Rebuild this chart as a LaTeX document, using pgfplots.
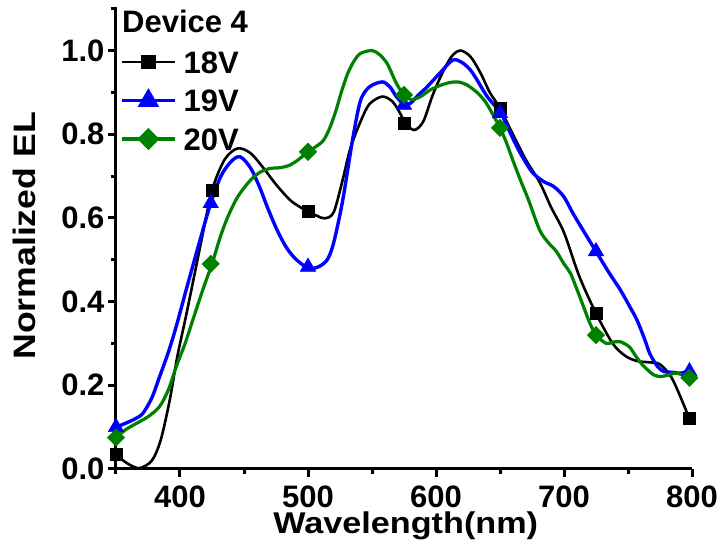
\documentclass[border=0pt]{standalone}
\usepackage{fontspec}
\setmainfont{Liberation Sans}
\usepackage{graphicx}
\usepackage{pgfplots}
\pgfplotsset{compat=1.18}
\definecolor{cgreen}{RGB}{0,128,0}
\definecolor{cblue}{RGB}{0,0,255}
\begin{document}
\begin{tikzpicture}
\begin{axis}[name=ax,
  width=576pt, height=462pt, scale only axis,
  xmin=350, xmax=800, ymin=0, ymax=1.104,
  axis x line*=bottom, axis y line*=left,
  axis line style={line width=3pt},
  every tick/.style={black, line width=3pt},
  tick align=outside,
  major tick length=8pt, minor tick length=5pt,
  xtick={400,500,600,700,800}, minor xtick={350,450,550,650,750},
  ytick={0,0.2,0.4,0.6,0.8,1.0}, minor ytick={0.1,0.3,0.5,0.7,0.9,1.1},
  yticklabel style={/pgf/number format/.cd, fixed, fixed zerofill, precision=1},
  /pgf/number format/assume math mode=true,
  tick label style={font=\fontsize{31}{31}\selectfont\bfseries},
  xticklabel style={inner sep=0pt, text depth=0pt, yshift=-8.6pt},
  xlabel={\scalebox{1.14}[1]{Wavelength(nm)}}, ylabel={\scalebox{1.15}[1]{Normalized EL}},
  xlabel style={font=\fontsize{30}{30}\selectfont\bfseries, inner sep=0pt, text height=21pt, at={(axis description cs:0.503,-0.14)}, anchor=base},
  ylabel style={font=\fontsize{31}{31}\selectfont\bfseries, at={(axis description cs:-0.1406,0.5045)}, anchor=base, rotate=0},
  clip=true,
  legend style={at={(0.007,0.905)}, anchor=north west, draw=none, fill=none, inner sep=0pt,
    font=\fontsize{31}{31}\selectfont\bfseries, row sep=16.5pt,
    nodes={inner sep=0pt, text height=22pt, text depth=0pt},
    /tikz/every odd column/.append style={column sep=7pt}},
  legend cell align=left,
  legend image code/.code={\draw[mark repeat=2,mark phase=2,#1] plot coordinates {(0pt,0pt) (26.5pt,0pt) (53pt,0pt)};},
]
% 18V curve
\addplot[black, line width=2.6pt, smooth, tension=0.5, forget plot] coordinates {
(350,0.035)(358,0.015)(368,0.002)(378,0.02)(385,0.07)(392,0.165)(398,0.27)(405,0.37)(415,0.52)(425,0.665)
(435,0.74)(445,0.766)(455,0.755)(465,0.72)(475,0.68)(487,0.64)(500,0.615)(507,0.605)(513,0.599)(520,0.613)
(527,0.69)(533,0.765)(541,0.83)(548,0.872)(558,0.89)(566,0.878)(572,0.85)(576,0.826)(583,0.81)(590,0.83)
(597,0.89)(604,0.94)(612,0.985)(619,1.0)(627,0.985)(635,0.945)(642,0.9)(650,0.862)(660,0.8)(670,0.74)
(681,0.685)(690,0.625)(700,0.565)(712,0.46)(725,0.372)(738,0.30)(748,0.27)(757,0.258)(766,0.255)(775,0.25)
(785,0.213)(798,0.12)};
\addplot[black, only marks, mark=square*, mark size=6pt, forget plot] coordinates {
(350,0.035)(425,0.667)(500,0.615)(575,0.827)(650,0.862)(725,0.372)(798,0.121)};
% 19V curve
\addplot[cblue, line width=3.4pt, smooth, tension=0.5, forget plot] coordinates {
(350,0.10)(358,0.11)(365,0.12)(371,0.133)(378,0.17)(384,0.22)(391,0.28)(397,0.34)(405,0.43)(415,0.54)
(424,0.635)(432,0.70)(440,0.735)(447,0.746)(455,0.72)(462,0.675)(469,0.62)(476,0.57)(483,0.53)(490,0.503)
(500,0.48)(508,0.483)(515,0.50)(520,0.54)(527,0.64)(535,0.79)(541,0.88)(548,0.913)(558,0.925)(564,0.913)
(569,0.89)(575,0.872)(580,0.874)(586,0.893)(593,0.913)(603,0.946)(613,0.977)(620,0.972)(627,0.953)(633,0.925)
(640,0.89)(651,0.848)(660,0.79)(666,0.754)(675,0.71)(684,0.687)(692,0.675)(700,0.65)(707,0.611)(716,0.565)
(725,0.52)(735,0.47)(744,0.428)(751,0.39)(757,0.356)(763,0.31)(767,0.276)(773,0.245)(778,0.233)(785,0.231)
(791,0.229)(798,0.235)};
\addplot[cblue, only marks, mark=triangle*, mark size=9pt, forget plot] coordinates {
(350,0.10)(424,0.635)(500,0.483)(575,0.87)(650,0.85)(725,0.52)(798,0.233)};
% 20V curve
\addplot[cgreen, line width=3.2pt, smooth, tension=0.5, forget plot] coordinates {
(350,0.075)(358,0.095)(366,0.109)(375,0.125)(384,0.149)(391,0.19)(397,0.244)(404,0.30)(410,0.356)(418,0.43)
(425,0.49)(431,0.55)(437,0.60)(445,0.65)(455,0.69)(463,0.71)(470,0.718)(478,0.72)(485,0.725)(492,0.738)
(500,0.758)(506,0.77)(512,0.785)(517,0.815)(522,0.858)(526,0.90)(531,0.945)(536,0.975)(541,0.993)(550,1.0)
(556,0.99)(562,0.968)(569,0.922)(575,0.894)(581,0.883)(588,0.89)(595,0.905)(602,0.915)(610,0.923)(617,0.925)
(624,0.918)(632,0.9)(638,0.88)(643,0.855)(650,0.815)(655,0.78)(660,0.738)(666,0.69)(672,0.645)(681,0.571)
(688,0.54)(694,0.52)(700,0.49)(705,0.468)(710,0.43)(715,0.39)(720,0.35)(725,0.32)(733,0.30)(738,0.303)
(744,0.304)(751,0.292)(756,0.27)(761,0.25)(766,0.235)(770,0.225)(775,0.221)(781,0.224)(788,0.229)(798,0.218)};
\addplot[cgreen, only marks, mark=square*, mark size=6.2pt, mark options={rotate=45}, forget plot] coordinates {
(350,0.075)(424,0.49)(500,0.758)(575,0.894)(650,0.815)(725,0.32)(798,0.218)};
\addlegendimage{black, line width=2.6pt, mark=square*, mark size=6pt}
\addlegendentry{18V}
\addlegendimage{cblue, line width=3.4pt, mark=triangle*, mark size=9pt}
\addlegendentry{19V}
\addlegendimage{cgreen, line width=3.2pt, mark=square*, mark size=6.2pt, mark options={rotate=45}}
\addlegendentry{20V}
\end{axis}
\node[anchor=base west, inner sep=0pt, font=\fontsize{31}{31}\selectfont\bfseries] at ([xshift=6pt,yshift=-26pt]ax.north west) {Device 4};
\path ([xshift=-116pt,yshift=-87pt]ax.south west) rectangle ([xshift=33pt,yshift=7pt]ax.north east);
\end{tikzpicture}
\end{document}
